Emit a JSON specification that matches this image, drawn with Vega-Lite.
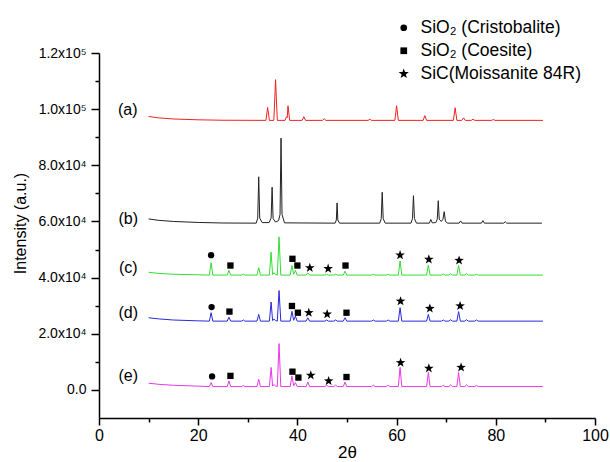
{
  "$schema": "https://vega.github.io/schema/vega-lite/v6.json",
  "width": 496,
  "height": 365,
  "autosize": {"type": "none"},
  "padding": {"left": 99, "top": 53, "right": 15, "bottom": 44},
  "background": "white",
  "config": {"view": {"stroke": null}, "font": "Liberation Sans"},
  "datasets": {
    "a": [
      {"x":10,"y":97400},{"x":12,"y":96900},{"x":15,"y":96500},{"x":20,"y":96200},{"x":25,"y":96050},
      {"x":33.65,"y":96000},{"x":34.0,"y":100600},{"x":34.35,"y":96000},
      {"x":35.25,"y":96000},{"x":35.6,"y":110500},{"x":35.95,"y":96000},
      {"x":37.5,"y":96000},{"x":37.8,"y":97300},{"x":37.95,"y":97000},{"x":38.1,"y":101200},{"x":38.45,"y":96000},
      {"x":40.95,"y":96000},{"x":41.3,"y":97300},{"x":41.65,"y":96000},
      {"x":45.05,"y":96000},{"x":45.4,"y":96600},{"x":45.75,"y":96000},
      {"x":54.25,"y":96000},{"x":54.6,"y":96400},{"x":54.95,"y":96000},
      {"x":59.65,"y":96000},{"x":60.0,"y":101200},{"x":60.35,"y":96000},
      {"x":65.35,"y":96000},{"x":65.7,"y":97700},{"x":66.05,"y":96000},
      {"x":71.45,"y":96000},{"x":71.8,"y":100500},{"x":72.15,"y":96000},
      {"x":73.15,"y":96000},{"x":73.5,"y":96900},{"x":73.85,"y":96000},
      {"x":75.05,"y":96000},{"x":75.4,"y":96400},{"x":75.75,"y":96000},
      {"x":79.15,"y":96000},{"x":79.5,"y":96300},{"x":79.85,"y":96000},
      {"x":89.5,"y":96000}
    ],
    "b": [
      {"x":10,"y":60900},{"x":12,"y":60400},{"x":15,"y":60000},{"x":20,"y":59650},{"x":25,"y":59450},
      {"x":31.7,"y":59400},{"x":32.0,"y":61200},{"x":32.2,"y":75900},{"x":32.4,"y":61200},{"x":32.9,"y":59600},
      {"x":34.3,"y":59600},{"x":34.7,"y":61200},{"x":34.9,"y":72200},{"x":35.1,"y":61000},{"x":35.6,"y":59800},
      {"x":36.2,"y":60300},{"x":36.5,"y":62500},{"x":36.7,"y":89700},{"x":36.9,"y":62500},{"x":37.4,"y":59500},
      {"x":47.6,"y":59400},{"x":47.85,"y":60500},{"x":48.0,"y":66600},{"x":48.15,"y":60500},{"x":48.5,"y":59400},
      {"x":56.6,"y":59400},{"x":56.9,"y":61000},{"x":57.1,"y":70400},{"x":57.3,"y":61000},{"x":57.7,"y":59400},
      {"x":62.9,"y":59400},{"x":63.2,"y":61000},{"x":63.4,"y":69200},{"x":63.6,"y":61000},{"x":64.0,"y":59400},
      {"x":66.6,"y":59400},{"x":66.9,"y":60700},{"x":67.2,"y":59500},
      {"x":67.9,"y":59600},{"x":68.2,"y":60800},{"x":68.4,"y":67400},{"x":68.6,"y":60800},{"x":69.0,"y":60000},
      {"x":69.35,"y":60800},{"x":69.6,"y":63500},{"x":69.85,"y":60000},{"x":70.3,"y":59400},
      {"x":72.6,"y":59400},{"x":72.9,"y":60200},{"x":73.2,"y":59400},
      {"x":77.1,"y":59400},{"x":77.4,"y":60300},{"x":77.7,"y":59400},
      {"x":81.6,"y":59400},{"x":81.9,"y":59900},{"x":82.2,"y":59400},
      {"x":89.3,"y":59400}
    ],
    "cde": [
      {"x":10,"c":41900,"d":25700,"e":2400},
      {"x":12,"c":41500,"d":25300,"e":2000},
      {"x":15,"c":41200,"d":24900,"e":1650},
      {"x":20,"c":41000,"d":24600,"e":1350},
      {"x":22.25,"c":40900,"d":24500,"e":1200},
      {"x":22.6,"c":45300,"d":27500,"e":2600},
      {"x":22.95,"c":40900,"d":24500,"e":1200},
      {"x":25.85,"c":40900,"d":24500,"e":1200},
      {"x":26.2,"c":42600,"d":25900,"e":3200},
      {"x":26.55,"c":40900,"d":24500,"e":1200},
      {"x":28.8,"c":40900,"d":24500,"e":1200},
      {"x":29.1,"c":41300,"d":24900,"e":1600},
      {"x":29.4,"c":40900,"d":24500,"e":1200},
      {"x":31.85,"c":40900,"d":24500,"e":1200},
      {"x":32.2,"c":43500,"d":26900,"e":3800},
      {"x":32.55,"c":40900,"d":24500,"e":1200},
      {"x":34.35,"c":40900,"d":24500,"e":1200},
      {"x":34.7,"c":49100,"d":31300,"e":8000},
      {"x":35.0,"c":41100,"d":24700,"e":1400},
      {"x":35.3,"c":41800,"d":25200,"e":1900},
      {"x":35.6,"c":41100,"d":24700,"e":1400},
      {"x":35.95,"c":40900,"d":24500,"e":1200},
      {"x":36.3,"c":54500,"d":35400,"e":16500},
      {"x":36.65,"c":40900,"d":24500,"e":1200},
      {"x":38.55,"c":40900,"d":24500,"e":1200},
      {"x":38.9,"c":44300,"d":28000,"e":5000},
      {"x":39.25,"c":41200,"d":24800,"e":1500},
      {"x":39.6,"c":42600,"d":26300,"e":2600},
      {"x":39.95,"c":40900,"d":24500,"e":1200},
      {"x":41.75,"c":40900,"d":24500,"e":1200},
      {"x":42.1,"c":41700,"d":25700,"e":2800},
      {"x":42.45,"c":40900,"d":24500,"e":1200},
      {"x":45.55,"c":40900,"d":24500,"e":1200},
      {"x":45.9,"c":41200,"d":24900,"e":1700},
      {"x":46.25,"c":40900,"d":24500,"e":1200},
      {"x":47.35,"c":40900,"d":24500,"e":1200},
      {"x":47.7,"c":41200,"d":24900,"e":1700},
      {"x":48.05,"c":40900,"d":24500,"e":1200},
      {"x":49.25,"c":40900,"d":24500,"e":1200},
      {"x":49.6,"c":42300,"d":25700,"e":2800},
      {"x":49.95,"c":40900,"d":24500,"e":1200},
      {"x":54.95,"c":40900,"d":24500,"e":1200},
      {"x":55.3,"c":41200,"d":24900,"e":1700},
      {"x":55.65,"c":40900,"d":24500,"e":1200},
      {"x":57.95,"c":40900,"d":24500,"e":1200},
      {"x":58.3,"c":41200,"d":24900,"e":1700},
      {"x":58.65,"c":40900,"d":24500,"e":1200},
      {"x":60.35,"c":40900,"d":24500,"e":1200},
      {"x":60.7,"c":45900,"d":29300,"e":8000},
      {"x":61.05,"c":40900,"d":24500,"e":1200},
      {"x":66.05,"c":40900,"d":24500,"e":1200},
      {"x":66.4,"c":44400,"d":26900,"e":6200},
      {"x":66.75,"c":40900,"d":24500,"e":1200},
      {"x":69.05,"c":40900,"d":24500,"e":1200},
      {"x":69.4,"c":41300,"d":24900,"e":1700},
      {"x":69.75,"c":40900,"d":24500,"e":1200},
      {"x":70.55,"c":40900,"d":24500,"e":1200},
      {"x":70.9,"c":41400,"d":25000,"e":1800},
      {"x":71.25,"c":40900,"d":24500,"e":1200},
      {"x":72.15,"c":40900,"d":24500,"e":1200},
      {"x":72.5,"c":44300,"d":27900,"e":6200},
      {"x":72.85,"c":40900,"d":24500,"e":1200},
      {"x":73.75,"c":40900,"d":24500,"e":1200},
      {"x":74.1,"c":41500,"d":25000,"e":1800},
      {"x":74.45,"c":40900,"d":24500,"e":1200},
      {"x":75.75,"c":40900,"d":24500,"e":1200},
      {"x":76.1,"c":41200,"d":24900,"e":1600},
      {"x":76.45,"c":40900,"d":24500,"e":1200},
      {"x":89.5,"c":40900,"d":24500,"e":1200}
    ],
    "markers": [
      {"x":22.6,"y":48000,"p":"SiO₂ (Cristobalite)"},
      {"x":26.5,"y":44300,"p":"SiO₂ (Coesite)"},
      {"x":39.0,"y":46700,"p":"SiO₂ (Coesite)"},
      {"x":40.0,"y":44300,"p":"SiO₂ (Coesite)"},
      {"x":42.5,"y":43500,"p":"SiC(Moissanite 84R)"},
      {"x":46.2,"y":43200,"p":"SiC(Moissanite 84R)"},
      {"x":49.7,"y":44300,"p":"SiO₂ (Coesite)"},
      {"x":60.7,"y":48000,"p":"SiC(Moissanite 84R)"},
      {"x":66.5,"y":46500,"p":"SiC(Moissanite 84R)"},
      {"x":72.6,"y":46100,"p":"SiC(Moissanite 84R)"},
      {"x":22.7,"y":29500,"p":"SiO₂ (Cristobalite)"},
      {"x":26.3,"y":27900,"p":"SiO₂ (Coesite)"},
      {"x":38.9,"y":29900,"p":"SiO₂ (Coesite)"},
      {"x":40.1,"y":27500,"p":"SiO₂ (Coesite)"},
      {"x":42.3,"y":27500,"p":"SiC(Moissanite 84R)"},
      {"x":46.0,"y":27000,"p":"SiC(Moissanite 84R)"},
      {"x":49.9,"y":27500,"p":"SiO₂ (Coesite)"},
      {"x":60.8,"y":31600,"p":"SiC(Moissanite 84R)"},
      {"x":66.7,"y":29000,"p":"SiC(Moissanite 84R)"},
      {"x":72.8,"y":29900,"p":"SiC(Moissanite 84R)"},
      {"x":22.8,"y":4800,"p":"SiO₂ (Cristobalite)"},
      {"x":26.5,"y":5000,"p":"SiO₂ (Coesite)"},
      {"x":39.0,"y":6500,"p":"SiO₂ (Coesite)"},
      {"x":40.2,"y":4400,"p":"SiO₂ (Coesite)"},
      {"x":42.7,"y":5200,"p":"SiC(Moissanite 84R)"},
      {"x":46.3,"y":3200,"p":"SiC(Moissanite 84R)"},
      {"x":49.9,"y":4600,"p":"SiO₂ (Coesite)"},
      {"x":60.8,"y":9700,"p":"SiC(Moissanite 84R)"},
      {"x":66.5,"y":7700,"p":"SiC(Moissanite 84R)"},
      {"x":73.0,"y":8000,"p":"SiC(Moissanite 84R)"}
    ],
    "labels": [
      {"x":5.8,"y":99800,"t":"(a)"},
      {"x":5.9,"y":60900,"t":"(b)"},
      {"x":5.9,"y":43300,"t":"(c)"},
      {"x":5.9,"y":27500,"t":"(d)"},
      {"x":5.9,"y":5000,"t":"(e)"}
    ]
  },
  "encoding": {
    "x": {
      "field": "x", "type": "quantitative",
      "scale": {"domain": [0, 100], "nice": false, "zero": false},
      "axis": {
        "values": [0,10,20,30,40,50,60,70,80,90,100],
        "labelExpr": "datum.value % 20 === 0 ? datum.label : ''",
        "grid": false, "labelFlush": false, "labelOverlap": false,
        "domainColor": "black", "domainWidth": 1.5,
        "tickColor": "black", "tickWidth": 1.5,
        "tickSize": {"condition": {"test": "datum.value % 20 === 0", "value": 7}, "value": 4},
        "labelFontSize": 16, "labelColor": "black", "labelPadding": 2,
        "title": "2θ", "titleFontSize": 17, "titleFontWeight": "normal", "titleColor": "black",
        "titleY": 43, "titleBaseline": "bottom"
      }
    },
    "y": {
      "field": "y", "type": "quantitative",
      "scale": {"domain": [-10000, 120000], "nice": false, "zero": false},
      "axis": {
        "values": [0,10000,20000,30000,40000,50000,60000,70000,80000,90000,100000,110000,120000],
        "labelExpr": "datum.value % 20000 !== 0 ? '' : datum.value === 0 ? '0.0' : datum.value < 100000 ? format(datum.value/10000, '.1f') + 'x10⁴' : format(datum.value/100000, '.1f') + 'x10⁵'",
        "grid": false, "labelFlush": false, "labelOverlap": false,
        "domainColor": "black", "domainWidth": 1.5,
        "tickColor": "black", "tickWidth": 1.5,
        "tickSize": {"condition": {"test": "datum.value % 20000 === 0", "value": 8}, "value": 4},
        "labelFontSize": 14, "labelColor": "black", "labelPadding": 5,
        "title": "Intensity (a.u.)", "titleFontSize": 16, "titleFontWeight": "normal", "titleColor": "black",
        "titleX": -79, "titleY": 170, "titleBaseline": "middle", "titleAlign": "center"
      }
    }
  },
  "layer": [
    {
      "data": {"name": "a"},
      "mark": {"type": "line", "color": "#ee2222", "strokeWidth": 1}
    },
    {
      "data": {"name": "b"},
      "mark": {"type": "line", "color": "#222222", "strokeWidth": 1}
    },
    {
      "data": {"name": "cde"},
      "transform": [{"fold": ["c", "d", "e"], "as": ["s", "y"]}],
      "mark": {"type": "line", "strokeWidth": 1},
      "encoding": {
        "color": {"field": "s", "type": "nominal", "legend": null,
          "scale": {"domain": ["c", "d", "e"], "range": ["#33dd33", "#2a2ad8", "#e838e8"]}}
      }
    },
    {
      "data": {"name": "markers"},
      "mark": {"type": "point", "filled": true, "color": "black", "opacity": 1, "size": 40},
      "encoding": {
        "shape": {"field": "p", "type": "nominal",
          "scale": {"domain": ["SiO₂ (Cristobalite)", "SiO₂ (Coesite)", "SiC(Moissanite 84R)"],
            "range": ["circle", "square", "M0,-1.6L0.376,-0.518L1.522,-0.494L0.608,0.198L0.941,1.294L0,0.64L-0.941,1.294L-0.608,0.198L-1.522,-0.494L-0.376,-0.518Z"]},
          "legend": {
            "orient": "none", "legendX": 296, "legendY": -34, "title": null,
            "labelFontSize": 17.5, "labelColor": "black", "labelFont": "Liberation Sans",
            "labelLimit": 400,
            "symbolFillColor": "black", "symbolStrokeColor": "black", "symbolSize": 45,
            "symbolStrokeWidth": 0, "rowPadding": 4, "labelOffset": 8
          }
        }
      }
    },
    {
      "data": {"name": "labels"},
      "mark": {"type": "text", "fontSize": 16, "align": "center", "baseline": "middle", "color": "black"},
      "encoding": {"text": {"field": "t"}}
    }
  ]
}
